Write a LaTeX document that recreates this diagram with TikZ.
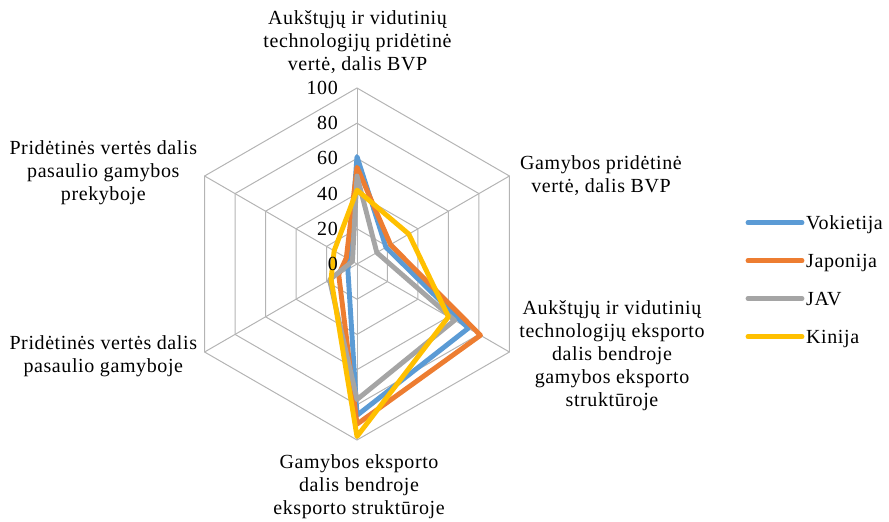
\documentclass[tikz,border=0pt]{standalone}
\usepackage{fontspec}
\setmainfont{Liberation Serif}[LetterSpace=3]
\definecolor{gridgray}{HTML}{B4B4B4}
\definecolor{serBlue}{HTML}{5B9BD5}
\definecolor{serOrange}{HTML}{ED7D31}
\definecolor{serGray}{HTML}{A5A5A5}
\definecolor{serGold}{HTML}{FFC000}
% one radar polygon: style, then the six axis values (clockwise from the top)
\newcommand\radarpoly[7]{%
  \draw[#1] (90:{1.76*#2}) -- (30:{1.76*#3}) -- (-30:{1.76*#4})
    -- (-90:{1.76*#5}) -- (-150:{1.76*#6}) -- (150:{1.76*#7}) -- cycle;}
\begin{document}
\begin{tikzpicture}[x=1pt,y=-1pt,
  gridline/.style={draw=gridgray, line width=1pt},
  series/.style={line width=4.9pt, line join=round, line cap=round},
  lbl/.style={font=\fontsize{20}{23}\selectfont, align=center, inner sep=0pt},
  ticklbl/.style={font=\fontsize{20}{23}\selectfont, inner sep=0pt, anchor=east},
  legtext/.style={font=\fontsize{20}{23}\selectfont, inner sep=0pt, anchor=base west},
]
\useasboundingbox (0,0) rectangle (889,522);

% radar grid, series and value scale, around the centre of the chart
\begin{scope}[shift={(357,264)}, y=1pt]
  \foreach \v in {20,40,60,80,100}
    \draw[gridline] (90:{1.76*\v}) -- (30:{1.76*\v}) -- (-30:{1.76*\v})
      -- (-90:{1.76*\v}) -- (-150:{1.76*\v}) -- (150:{1.76*\v}) -- cycle;
  \coordinate (c) at (0,0);
  \foreach \a [count=\i] in {90,30,-30,-90,-150,150}
    \coordinate (ax\i) at (\a:176);
  \foreach \i in {1,...,6}
    \draw[gridline] (c) -- (ax\i);

  \radarpoly{series, serBlue}{61}{19}{73}{86}{6}{5}
  \radarpoly{series, serOrange}{55}{22}{81}{91}{12}{7}
  \radarpoly{series, serGray}{50}{13}{64}{77}{18}{3}
  \radarpoly{series, serGold}{42}{34}{60}{98}{17}{15}

  \foreach \v in {0,20,40,60,80,100}
    \node[ticklbl] (tick\v) at (-19,{1.76*\v}) {\v};
\end{scope}

% axis titles
\node[lbl] (t1) at (357.5,42.4) {Aukštųjų ir vidutinių\\technologijų pridėtinė\\vertė, dalis BVP};
\node[lbl] (t2) at (601,176) {Gamybos pridėtinė\\vertė, dalis BVP};
\node[lbl] (t3) at (612,355.2) {Aukštųjų ir vidutinių\\technologijų eksporto\\dalis bendroje\\gamybos eksporto\\struktūroje};
\node[lbl] (t4) at (359,486.5) {Gamybos eksporto\\dalis bendroje\\eksporto struktūroje};
\node[lbl] (t5) at (103.3,356.7) {Pridėtinės vertės dalis\\pasaulio gamyboje};
\node[lbl] (t6) at (103.3,173.2) {Pridėtinės vertės dalis\\pasaulio gamybos\\prekyboje};

% legend
\foreach \col/\name/\y [count=\i] in {serBlue/Vokietija/222.7, serOrange/Japonija/260.7, serGray/JAV/298.5, serGold/Kinija/336.7}{
  \coordinate (k\i a) at (748,\y);
  \coordinate (k\i b) at (802,\y);
  \draw[series, \col] (k\i a) -- (k\i b);
  \node[legtext] (leg\i) at (806,\y+6.5) {\name};
}
\end{tikzpicture}
\end{document}
